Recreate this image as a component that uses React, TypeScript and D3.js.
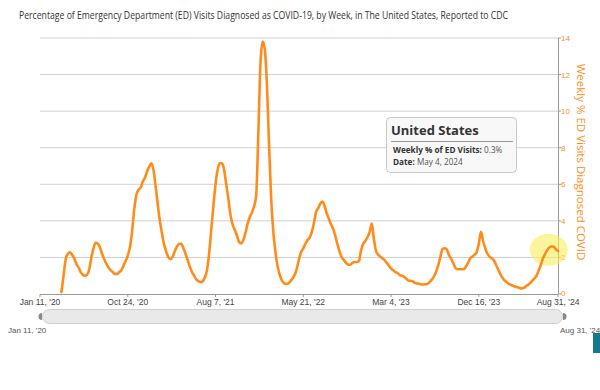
import React, { useLayoutEffect, useRef, useState } from "react";
import * as d3 from "d3";

const TITLE =
  "Percentage of Emergency Department (ED) Visits Diagnosed as COVID-19, by Week, in The United States, Reported to CDC";
const Y_TITLE = "Weekly % ED Visits Diagnosed COVID";

const axisStart = "2020-01-11";
const axisEnd = "2024-08-31";
const seriesStart = "2020-03-21";

// weekly % of ED visits, one value per week starting at seriesStart
const weeklyPct = [
  0.1, 1.0, 1.9, 2.2, 2.28, 2.15, 1.95, 1.65, 1.45, 1.2,
  1.05, 1.0, 1.05, 1.35, 2.0, 2.5, 2.8, 2.75, 2.55, 2.2,
  1.9, 1.65, 1.45, 1.3, 1.2, 1.1, 1.1, 1.2, 1.3, 1.55,
  1.8, 2.1, 2.55, 3.4, 4.6, 5.4, 5.7, 5.8, 6.15, 6.35,
  6.7, 6.95, 7.15, 6.8, 5.9, 4.9, 4.0, 3.3, 2.7, 2.3,
  2.0, 1.9, 2.05, 2.35, 2.6, 2.75, 2.75, 2.5, 2.2, 1.85,
  1.5, 1.2, 1.0, 0.8, 0.7, 0.65, 0.7, 0.9, 1.3, 2.2,
  3.5, 4.8, 6.0, 6.8, 7.15, 7.15, 6.8, 6.0, 5.2, 4.3,
  3.8, 3.5, 3.2, 2.85, 2.77, 2.95, 3.35, 3.85, 4.2, 4.45,
  4.8, 5.4, 8.8, 12.6, 13.8, 13.4, 11.5, 8.2, 5.2, 3.4,
  2.3, 1.5, 1.05, 0.75, 0.6, 0.55, 0.57, 0.7, 0.85, 1.05,
  1.4, 1.9, 2.3, 2.5, 2.75, 2.95, 3.1, 3.4, 3.9, 4.5,
  4.7, 4.95, 5.05, 4.8, 4.4, 4.1, 3.8, 3.55, 3.15, 2.7,
  2.3, 2.0, 1.85, 1.7, 1.6, 1.6, 1.7, 1.75, 1.75, 1.8,
  2.4, 2.75, 2.9, 3.1, 3.4, 3.85, 3.0, 2.35, 2.15, 2.05,
  1.95, 1.85, 1.7, 1.55, 1.4, 1.3, 1.2, 1.15, 1.05, 1.0,
  0.95, 0.85, 0.75, 0.72, 0.7, 0.62, 0.58, 0.56, 0.53, 0.52,
  0.53, 0.55, 0.65, 0.78, 0.95, 1.2, 1.55, 2.0, 2.45, 2.5,
  2.45, 2.15, 1.95, 1.7, 1.45, 1.35, 1.35, 1.35, 1.35, 1.5,
  1.7, 1.95, 2.05, 2.15, 2.3, 2.75, 3.4, 2.9, 2.5, 2.2,
  2.05, 1.95, 1.85, 1.6, 1.35, 1.1, 0.9, 0.75, 0.65, 0.55,
  0.5, 0.45, 0.4, 0.38, 0.33, 0.3, 0.33, 0.42, 0.5, 0.6,
  0.72, 0.85, 1.0, 1.3, 1.6, 1.95, 2.2, 2.4, 2.55, 2.6,
  2.58, 2.45, 2.35,
];

const xTickDates = ["2020-01-11", "2020-10-24", "2021-08-07", "2022-05-21", "2023-03-04", "2023-12-16", "2024-08-31"];
const xTickLabels = ["Jan 11, '20", "Oct 24, '20", "Aug 7, '21", "May 21, '22", "Mar 4, '23", "Dec 16, '23", "Aug 31, '24"];
const yTicks = [0, 2, 4, 6, 8, 10, 12, 14];

const tooltipName = "United States";
const tooltipValueLabel = "Weekly % of ED Visits:";
const tooltipValue = "0.3%";
const tooltipDateLabel = "Date:";
const tooltipDate = "May 4, 2024";
const rangeStartLabel = "Jan 11, '20";
const rangeEndLabel = "Aug 31, '24";

const parse = (s: string) => new Date(s + "T00:00:00Z");

export default function App() {
  const W = 600, H = 390;
  const left = 40, right = 558, top = 38, bottom = 294;
  const x = d3.scaleUtc().domain([parse(axisStart), parse(axisEnd)]).range([left, right]);
  const y = d3.scaleLinear().domain([0, 14]).range([bottom, top]);
  const s0 = parse(seriesStart);
  const data = weeklyPct.map((v, i) => ({ date: d3.utcDay.offset(s0, 7 * i), v }));
  const line = d3
    .line<{ date: Date; v: number }>()
    .x((d) => x(d.date))
    .y((d) => y(d.v))
    .curve(d3.curveMonotoneX);
  const orange = "#FF8C1A";
  const last = data[data.length - 3];
  const font = "'Open Sans', 'DejaVu Sans', sans-serif";
  const font2 = "'Liberation Sans', Arial, sans-serif";

  const titleRef = useRef<SVGTextElement>(null);
  const [titleScale, setTitleScale] = useState(0.8);
  useLayoutEffect(() => {
    if (titleRef.current) {
      const len = titleRef.current.getComputedTextLength();
      if (len > 0) setTitleScale(489 / len);
    }
  }, []);

  return (
    <div style={{ position: "absolute", left: 0, top: 0 }}>
      <svg width={W} height={H} style={{ display: "block", background: "#fff" }}>
        <text
          ref={titleRef}
          transform={`translate(19,18.5) scale(${titleScale},1)`}
          fontFamily={font}
          fontSize={10.4}
          fill="#333"
        >
          {TITLE}
        </text>
        {yTicks.filter((t) => t > 0).map((t) => (
          <line key={t} x1={left} x2={right} y1={y(t)} y2={y(t)} stroke="#d0d0d0" strokeWidth={1} />
        ))}
        {/* x axis */}
        <line x1={left} x2={right} y1={bottom + 0.5} y2={bottom + 0.5} stroke="#9a9a9a" strokeWidth={1} />
        {xTickDates.map((d, i) => (
          <g key={d}>
            <line x1={x(parse(d))} x2={x(parse(d))} y1={bottom} y2={bottom + 3} stroke="#9a9a9a" />
            <text x={x(parse(d))} y={305} textAnchor="middle" fontFamily={font2} fontSize={8.5} fill="#444">
              {xTickLabels[i]}
            </text>
          </g>
        ))}
        {/* right axis */}
        <line x1={right + 0.5} x2={right + 0.5} y1={top} y2={bottom} stroke="#9a9a9a" strokeWidth={1} />
        {yTicks.map((t) => (
          <g key={t}>
            <line x1={right} x2={right + 3} y1={y(t)} y2={y(t)} stroke="#9a9a9a" />
            <text x={right + 3} y={y(t) + (t === 0 ? 1.5 : 3)} fontFamily={font2} fontSize={8} fill={orange}>
              {t}
            </text>
          </g>
        ))}
        <text
          transform={`translate(577,${(top + bottom) / 2 - 4}) rotate(90)`}
          textAnchor="middle"
          fontFamily={font}
          fontSize={11.5}
          fill={orange}
        >
          {Y_TITLE}
        </text>
        {/* hover halo */}
        <ellipse cx={x(last.date) - 5} cy={y(last.v) + 3} rx={19} ry={16} fill="#f6ef5a" opacity={0.6} />
        <path d={line(data) || ""} fill="none" stroke={orange} strokeWidth={2.6} strokeLinejoin="round" strokeLinecap="round" />
        {/* tooltip */}
        <g>
          <rect x={386.5} y={117.5} width={130} height={55} rx={4} fill="#f7f7f7" fillOpacity={0.92} stroke="#c8c8c8" />
          <text x={391} y={135} fontFamily={font} fontSize={13} fontWeight="bold" fill="#333">
            {tooltipName}
          </text>
          <line x1={391} x2={513} y1={141.5} y2={141.5} stroke="#999" />
          <text x={393} y={153} fontFamily={font} fontSize={8.2} fill="#333">
            <tspan fontWeight="bold">{tooltipValueLabel}</tspan>
            <tspan fill="#555"> {tooltipValue}</tspan>
          </text>
          <text x={393} y={165} fontFamily={font} fontSize={8.2} fill="#333">
            <tspan fontWeight="bold">{tooltipDateLabel}</tspan>
            <tspan fill="#555"> {tooltipDate}</tspan>
          </text>
        </g>
        {/* navigator / scrollbar */}
        <rect x={42.5} y={309.5} width={520} height={14} rx={7} fill="#e9e9e9" stroke="#d0d0d0" />
        <path d="M42,313 A3.5,3.5 0 0 0 42,320 Z" fill="#888" />
        <path d="M563,313 A3.5,3.5 0 0 1 563,320 Z" fill="#888" />
        <text x={8} y={333} fontFamily={font2} fontSize={8} fill="#555">
          {rangeStartLabel}
        </text>
        <text x={560} y={333} fontFamily={font2} fontSize={8} fill="#555">
          {rangeEndLabel}
        </text>
        <rect x={593} y={333} width={7} height={20} fill="#137a8c" />
      </svg>
    </div>
  );
}
